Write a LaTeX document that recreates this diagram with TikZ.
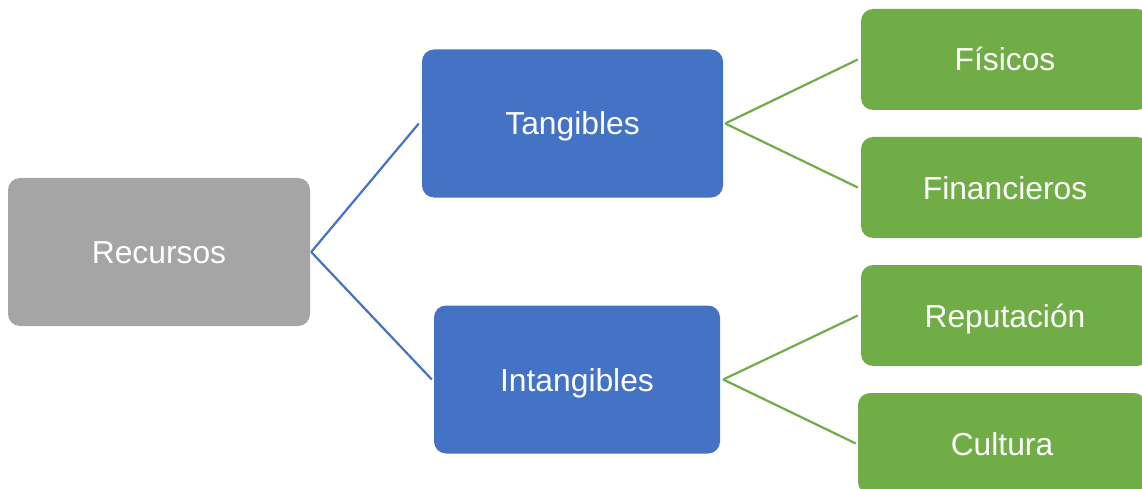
\documentclass[tikz,border=0pt]{standalone}
\usepackage{fontspec}
\setmainfont{Liberation Sans}
\definecolor{boxgray}{HTML}{A5A5A5}
\definecolor{boxblue}{HTML}{4472C4}
\definecolor{boxgreen}{HTML}{70AD47}
\tikzset{
  card/.style={rounded corners=12pt, inner sep=0pt, text=white,
    font=\fontsize{31.8}{38}\selectfont, text height=23pt, text depth=0pt,
    anchor=center},
  rootbox/.style={card, fill=boxgray, minimum width=302pt, minimum height=148pt},
  midbox/.style={card, fill=boxblue, minimum height=148pt},
  leafbox/.style={card, fill=boxgreen, minimum width=288pt, minimum height=101pt},
  bluelink/.style={draw=boxblue, line width=2.2pt},
  greenlink/.style={draw=boxgreen, line width=2.2pt}
}
\begin{document}
\begin{tikzpicture}[x=1pt,y=-1pt]
  \useasboundingbox (0,0) rectangle (1142,489);
  \clip (0,0) rectangle (1142,489);

  % root
  \node[rootbox] (rec) at (159,252) {Recursos};

  % second level
  \node[midbox, minimum width=301pt] (tan) at (572.5,123.5) {Tangibles};
  \node[midbox, minimum width=286pt] (int) at (577,379.5) {Intangibles};

  % leaves
  \node[leafbox] (fis) at (1005,59.5)  {Físicos};
  \node[leafbox] (fin) at (1005,187.5) {Financieros};
  \node[leafbox] (rep) at (1005,315.5) {Reputación};
  \node[leafbox] (cul) at (1002,443.5) {Cultura};

  % connectors
  \draw[bluelink] ([xshift=1pt]rec.east) -- ([xshift=-3pt]tan.west);
  \draw[bluelink] ([xshift=1pt]rec.east) -- ([xshift=-2pt]int.west);

  \draw[greenlink] ([xshift=2pt]tan.east) -- ([xshift=-3pt]fis.west);
  \draw[greenlink] ([xshift=2pt]tan.east) -- ([xshift=-3pt]fin.west);
  \draw[greenlink] ([xshift=3pt]int.east) -- ([xshift=-3pt]rep.west);
  \draw[greenlink] ([xshift=3pt]int.east) -- ([xshift=-2pt]cul.west);
\end{tikzpicture}
\end{document}
